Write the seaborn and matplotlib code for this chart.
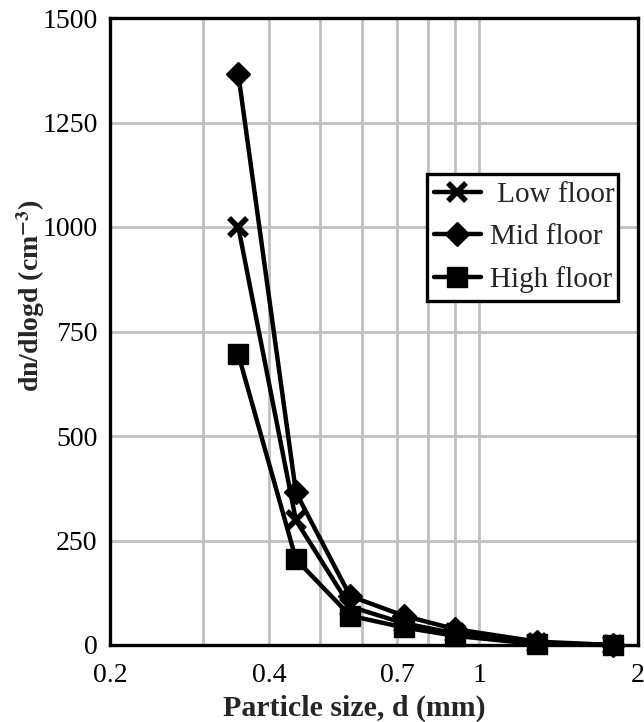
import matplotlib
matplotlib.use("Agg")
import matplotlib.pyplot as plt
import seaborn as sns
import pandas as pd
from matplotlib.transforms import Bbox, TransformedBbox

# Particle size bins (mm) and number size distributions per floor level
particle_size = [0.35, 0.45, 0.57, 0.72, 0.90, 1.29, 1.79]
low_floor = [1000, 298, 92, 52, 28, 5, 0]
mid_floor = [1365, 365, 117, 70, 38, 8, 0]
high_floor = [695, 205, 70, 42, 22, 2, 0]

series_names = [" Low floor", "Mid floor", "High floor"]
x_ticks = [0.2, 0.3, 0.4, 0.5, 0.6, 0.7, 0.8, 0.9, 1, 2]
x_tick_labels = ["0.2", "", "0.4", "", "", "0.7", "", "", "1", "2"]
y_ticks = [0, 250, 500, 750, 1000, 1250, 1500]

sns.set_theme(style="white")
plt.rcParams["font.family"] = ["Liberation Serif", "DejaVu Serif"]
plt.rcParams["mathtext.fontset"] = "stix"

df = pd.DataFrame({
    "size": particle_size * 3,
    "value": low_floor + mid_floor + high_floor,
    "floor": sum([[n] * len(particle_size) for n in series_names], []),
})

fig = plt.figure(figsize=(6.44, 7.22), dpi=100)
ax = fig.add_axes([110 / 644, 77 / 722, 528 / 644, 627 / 722])

marker_style = {
    " Low floor": dict(marker="x", markersize=13, markeredgewidth=4),
    "Mid floor": dict(marker="D", markersize=12, markeredgewidth=1),
    "High floor": dict(marker="s", markersize=15, markeredgewidth=1),
}
for name in series_names:
    sub = df[df["floor"] == name]
    sns.lineplot(data=sub, x="size", y="value", ax=ax, color="black",
                 linewidth=3.2, markeredgecolor="black", markerfacecolor="black",
                 label=name, clip_on=False, **marker_style[name])

ax.set_xscale("log")
ax.set_xlim(0.2, 2)
ax.set_ylim(0, 1500)
ax.set_xticks(x_ticks)
ax.set_xticklabels(x_tick_labels)
ax.xaxis.set_minor_locator(matplotlib.ticker.NullLocator())
ax.set_yticks(y_ticks)
ax.set_yticklabels([str(v) for v in y_ticks])
ax.grid(True, color="#c0c0c0", linewidth=2)
ax.set_axisbelow(True)
ax.tick_params(axis="both", labelsize=20, colors="#c0c0c0", labelcolor="black",
               length=6, width=2, pad=3, direction="out")
ax.tick_params(axis="x", length=0, pad=13)

for sp in ax.spines.values():
    sp.set_color("black")
    sp.set_linewidth(2.4)

ax.set_xlabel("Particle size, d (mm)", fontsize=21.5, fontweight="bold")
ax.set_ylabel(r"dn/dlogd (cm$^{\mathbf{-3}}$)", fontsize=20, fontweight="bold")
ax.xaxis.set_label_coords(0.462, -0.079)
ax.yaxis.set_label_coords(-0.12, 0.557)

leg = ax.legend(loc="upper left", bbox_to_anchor=(0.60, 0.555, 0.363, 0.196),
                mode="expand", borderaxespad=0, fontsize=21, frameon=True,
                fancybox=False, framealpha=1, edgecolor="black",
                handlelength=1.6, handletextpad=0.3, labelspacing=0.55,
                borderpad=0.25)
leg.get_frame().set_linewidth(2.4)
clip = TransformedBbox(Bbox([[0.0, 0.0], [0.958, 1.0]]), ax.transAxes)
for t in leg.get_texts():
    t.set_clip_box(clip)
    t.set_clip_on(True)

fig.savefig("out.png", dpi=100)
